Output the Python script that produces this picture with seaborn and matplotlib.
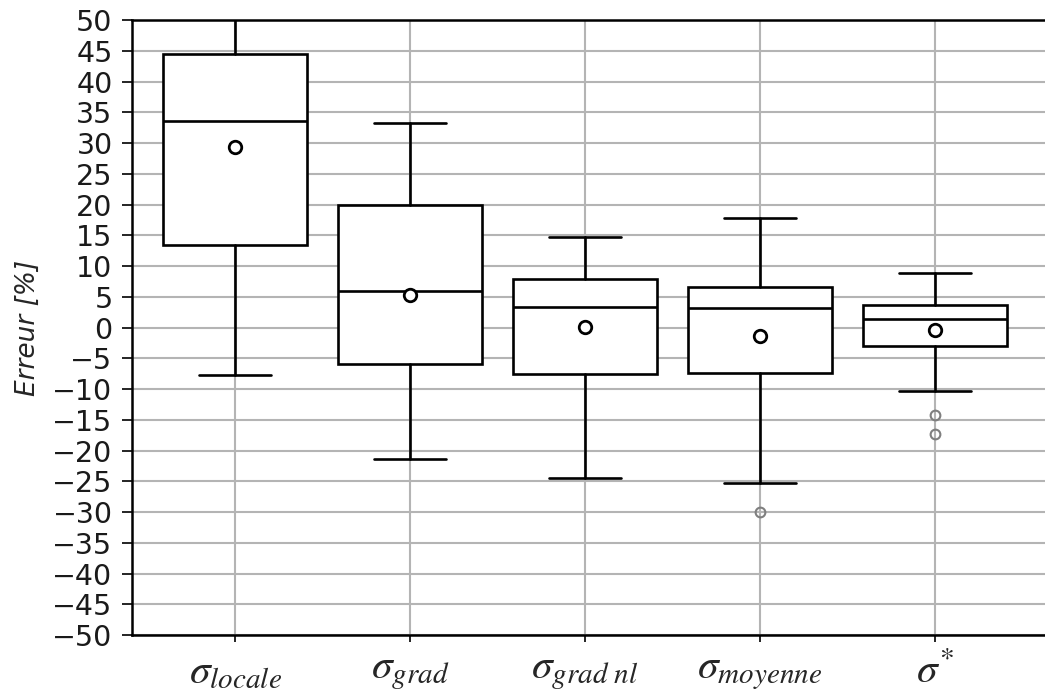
import matplotlib
matplotlib.use("Agg")
import matplotlib.pyplot as plt
import seaborn as sns

labels = [r"$\sigma_{locale}$", r"$\sigma_{grad}$", r"$\sigma_{grad\ nl}$",
          r"$\sigma_{moyenne}$", r"$\sigma^{*}$"]
q1 = [13.4, -5.9, -7.6, -7.4, -3.0]
medians = [33.6, 5.9, 3.3, 3.2, 1.4]
q3 = [44.5, 19.9, 7.9, 6.6, 3.7]
whis_low = [-7.7, -21.4, -24.5, -25.3, -10.3]
whis_high = [58.0, 33.3, 14.7, 17.8, 8.9]
means = [29.3, 5.3, 0.1, -1.4, -0.4]
outliers = [[], [], [], [-30.0], [-14.2, -17.3]]

sns.set_theme(style="ticks")
plt.rcParams["font.family"] = ["DejaVu Sans"]
plt.rcParams["mathtext.fontset"] = "stix"

stats = []
for i in range(len(labels)):
    stats.append({
        "label": labels[i], "q1": q1[i], "med": medians[i], "q3": q3[i],
        "whislo": whis_low[i], "whishi": whis_high[i], "mean": means[i],
        "fliers": outliers[i],
    })

fig = plt.figure(figsize=(10.45, 6.95), dpi=100)
ax = fig.add_axes([0.1263, 0.0863, 1 - 0.1263, 0.9712 - 0.0863])

line = dict(color="black", linewidth=1.9)
ax.bxp(
    stats, positions=range(len(labels)), widths=0.82, showmeans=True,
    patch_artist=True,
    boxprops=dict(facecolor="white", edgecolor="black", linewidth=1.9),
    whiskerprops=line, capprops=line, medianprops=line,
    meanprops=dict(marker="o", markerfacecolor="white", markeredgecolor="black",
                   markersize=9, markeredgewidth=2),
    flierprops=dict(marker="o", markerfacecolor="none", markeredgecolor="#7f7f7f",
                    markersize=7, markeredgewidth=1.5),
)

ax.set_xlim(-0.589, 4.63)
ax.set_ylim(-50, 50)
ax.set_yticks(range(-50, 51, 5))
ax.set_xticks(range(len(labels)))
ax.set_xticklabels(labels, fontsize=30)
ax.tick_params(axis="y", labelsize=20.5, length=7, width=1.2, color="black",
               labelcolor="#1a1a1a", pad=7)
ax.tick_params(axis="x", length=5, width=1.2, color="black", pad=6)
ax.set_ylabel("Erreur [%]", fontsize=19, style="italic", labelpad=8)

ax.grid(True, color="#b4b4b4", linewidth=1.5)
ax.set_axisbelow(True)
for side in ["left", "bottom", "top"]:
    ax.spines[side].set_color("black")
    ax.spines[side].set_linewidth(1.8)
ax.spines["right"].set_visible(False)

fig.savefig("out.png", dpi=100)
